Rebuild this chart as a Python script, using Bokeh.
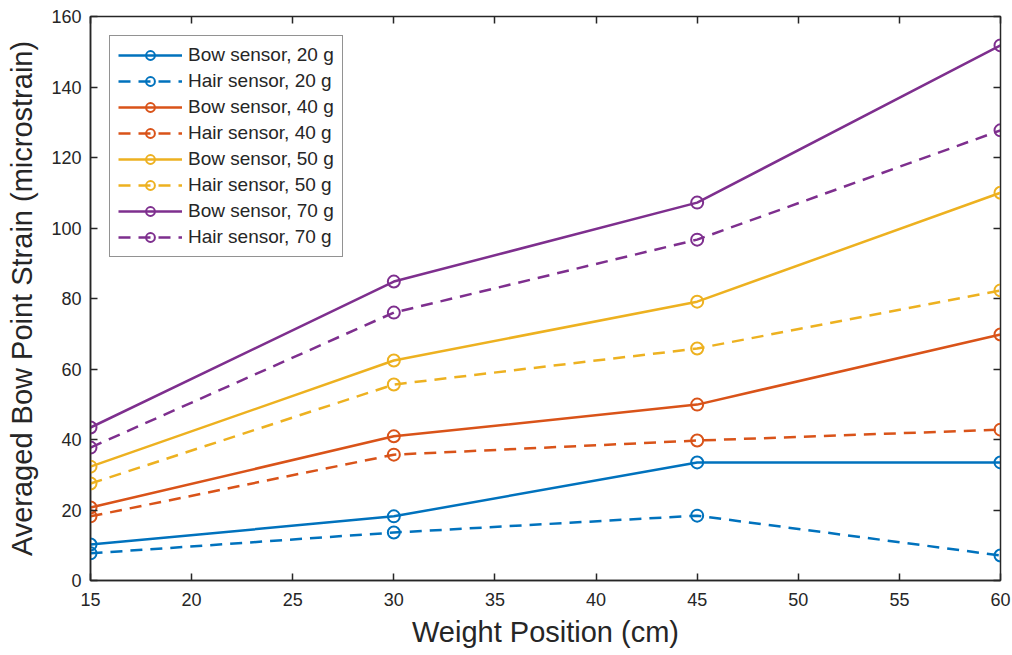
from bokeh.plotting import figure
from bokeh.models import LinearAxis, Legend, LegendItem, Range1d, FixedTicker, CustomJSTickFormatter
from bokeh.embed import file_html
from bokeh.resources import INLINE

positions = [15, 30, 45, 60]
bow_20 = [10.2, 18.2, 33.5, 33.5]
hair_20 = [7.7, 13.6, 18.4, 7.1]
bow_40 = [20.7, 40.9, 49.9, 69.8]
hair_40 = [18.2, 35.7, 39.7, 42.8]
bow_50 = [32.3, 62.4, 79.1, 110.0]
hair_50 = [27.5, 55.6, 65.8, 82.3]
bow_70 = [43.4, 84.8, 107.2, 151.8]
hair_70 = [37.7, 76.0, 96.7, 127.7]

x_ticks = [15, 20, 25, 30, 35, 40, 45, 50, 55, 60]
y_ticks = [0, 20, 40, 60, 80, 100, 120, 140, 160]

series = [
    ("Bow sensor, 20 g", bow_20, "#0072BD", "solid"),
    ("Hair sensor, 20 g", hair_20, "#0072BD", "12 8"),
    ("Bow sensor, 40 g", bow_40, "#D95319", "solid"),
    ("Hair sensor, 40 g", hair_40, "#D95319", "12 8"),
    ("Bow sensor, 50 g", bow_50, "#EDB120", "solid"),
    ("Hair sensor, 50 g", hair_50, "#EDB120", "12 8"),
    ("Bow sensor, 70 g", bow_70, "#7E2F8E", "solid"),
    ("Hair sensor, 70 g", hair_70, "#7E2F8E", "12 8"),
]

FONT = "Liberation Sans"
TXT = "#262626"

p = figure(width=1012, height=655, output_backend="svg", toolbar_location=None,
           x_range=Range1d(15, 60), y_range=Range1d(0, 160),
           min_border_left=90, min_border_right=12, min_border_top=16, min_border_bottom=75,
           x_axis_label="Weight Position (cm)", y_axis_label="Averaged Bow Point Strain (microstrain)")
p.xgrid.visible = False
p.ygrid.visible = False
p.outline_line_color = "#262626"
p.outline_line_width = 1.5

for ax, ticks in ((p.xaxis[0], x_ticks), (p.yaxis[0], y_ticks)):
    ax.ticker = FixedTicker(ticks=ticks)
    ax.major_tick_in = 7
    ax.major_tick_out = 0
    ax.minor_tick_in = 0
    ax.minor_tick_out = 0
    ax.axis_line_color = "#262626"
    ax.axis_line_width = 1.5
    ax.major_tick_line_color = "#262626"
    ax.major_tick_line_width = 1.5
    ax.major_label_text_font = FONT
    ax.major_label_text_font_size = "18px"
    ax.major_label_text_color = TXT
    ax.axis_label_text_font = FONT
    ax.axis_label_text_font_size = "29px"
    ax.axis_label_text_font_style = "normal"
    ax.axis_label_text_color = TXT

p.xaxis[0].major_label_standoff = 12
p.yaxis[0].major_label_standoff = 9
p.xaxis[0].axis_label_standoff = 7
p.yaxis[0].axis_label_standoff = 10

blank = CustomJSTickFormatter(code="return ''")
top = LinearAxis(ticker=FixedTicker(ticks=x_ticks), formatter=blank,
                 major_tick_in=7, major_tick_out=0, minor_tick_in=0, minor_tick_out=0,
                 major_label_standoff=0,
                 axis_line_color="#262626", major_tick_line_color="#262626", major_tick_line_width=1.5)
right = LinearAxis(ticker=FixedTicker(ticks=y_ticks), formatter=blank,
                   major_tick_in=7, major_tick_out=0, minor_tick_in=0, minor_tick_out=0,
                   major_label_standoff=0,
                   axis_line_color="#262626", major_tick_line_color="#262626", major_tick_line_width=1.5)
p.add_layout(top, "above")
p.add_layout(right, "right")

items = []
for label, vals, color, dash in series:
    r1 = p.line(positions, vals, line_color=color, line_width=2.5, line_dash=dash)
    r2 = p.scatter(positions, vals, marker="circle", size=12, fill_color=None,
                   line_color=color, line_width=2)
    items.append(LegendItem(label=label, renderers=[r1, r2]))

legend = Legend(items=items, location="top_left", margin=19,
                label_text_font=FONT, label_text_font_size="19px", label_text_color=TXT,
                glyph_width=64, glyph_height=22, spacing=4, padding=8,
                label_standoff=6, border_line_color="#262626", border_line_width=1.2,
                background_fill_alpha=1)
p.add_layout(legend, "center")

open("out.html", "w").write(file_html(p, INLINE))
